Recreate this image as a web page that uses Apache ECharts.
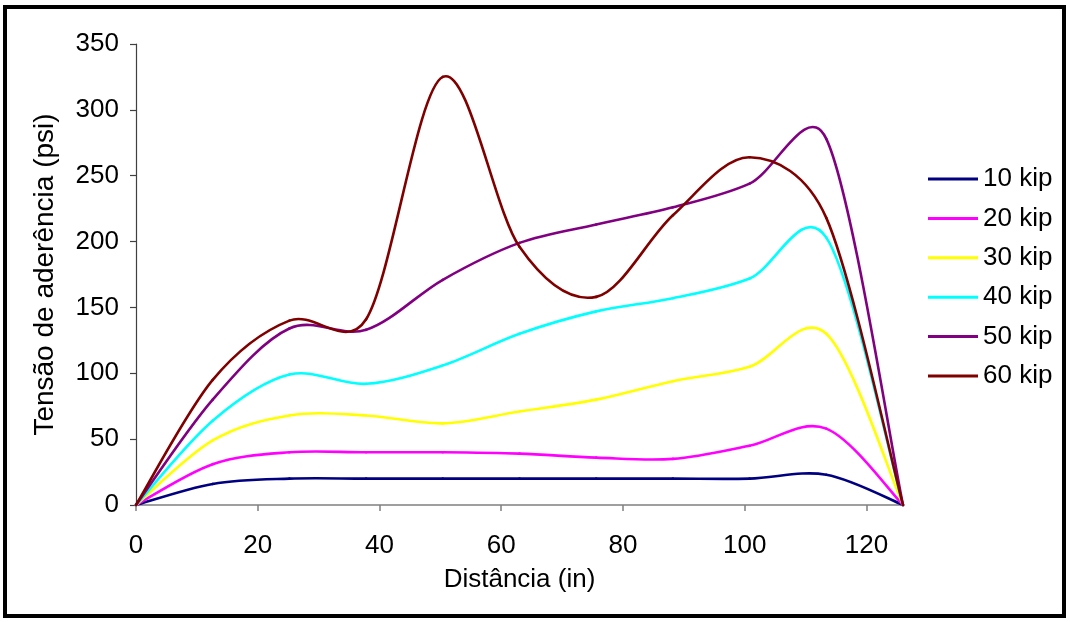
<!DOCTYPE html>
<html>
<head>
<meta charset="utf-8">
<script src="https://cdn.jsdelivr.net/npm/echarts@6/dist/echarts.min.js"></script>
<style>
html,body{margin:0;padding:0;background:#fff;}
#c{width:1070px;height:622px;}
</style>
</head>
<body>
<div id="c"></div>
<script>
// Distances (in) of the measured points
const distances = [0, 12.6, 25.2, 37.8, 50.4, 63, 75.6, 88.2, 100.8, 113.4, 126];
// Bond stress (psi) per load level
const kip10 = [0, 16, 20, 20, 20, 20, 20, 20, 20, 23, 0];
const kip20 = [0, 31, 40, 40, 40, 39, 36, 35, 45, 58, 0];
const kip30 = [0, 49, 68, 68, 62, 71, 80, 94, 105, 130, 0];
const kip40 = [0, 64, 99, 92, 106, 130, 147, 157, 172, 203, 0];
const kip50 = [0, 80, 134, 133, 171, 199, 213, 226, 244, 278, 0];
const kip60 = [0, 95, 140, 141, 325, 196, 158, 220, 264, 218, 0];
const seriesNames = ['10 kip', '20 kip', '30 kip', '40 kip', '50 kip', '60 kip'];
const seriesColors = ['#000080', '#FF00FF', '#FFFF00', '#00FFFF', '#800080', '#800000'];
const xTicks = [0, 20, 40, 60, 80, 100, 120];
const yTicks = [0, 50, 100, 150, 200, 250, 300, 350];

const allValues = [kip10, kip20, kip30, kip40, kip50, kip60];
const chart = echarts.init(document.getElementById('c'));
const font = 'Arial, "Liberation Sans", sans-serif';

// Smoothed segment (spreadsheet-style Bezier smoothing) between data points,
// positions obtained through the chart's own axes via api.coord.
function makeRenderItem(color) {
  return function (params, api) {
    const idx = params.dataIndexInside;
    const n = params.dataInsideLength;
    if (idx >= n - 1) return null;
    const pt = function (k) {
      k = Math.max(0, Math.min(n - 1, k));
      return api.coord([api.value(0, k), api.value(1, k)]);
    };
    const p0 = pt(idx - 1), p1 = pt(idx), p2 = pt(idx + 1), p3 = pt(idx + 2);
    const dist = (a, b) => Math.hypot(a[0] - b[0], a[1] - b[1]);
    const d12 = dist(p1, p2), d02 = dist(p0, p2), d13 = dist(p1, p3);
    const f1 = d02 > 0 ? Math.min(1 / 6, d12 / (2 * d02)) : 0;
    const f2 = d13 > 0 ? Math.min(1 / 6, d12 / (2 * d13)) : 0;
    return {
      type: 'bezierCurve',
      shape: {
        x1: p1[0], y1: p1[1], x2: p2[0], y2: p2[1],
        cpx1: p1[0] + (p2[0] - p0[0]) * f1,
        cpy1: p1[1] + (p2[1] - p0[1]) * f1,
        cpx2: p2[0] - (p3[0] - p1[0]) * f2,
        cpy2: p2[1] - (p3[1] - p1[1]) * f2
      },
      style: { stroke: color, lineWidth: 2.6, fill: null, lineCap: 'round', lineJoin: 'round' }
    };
  };
}

const series = allValues.map((vals, i) => ({
  name: seriesNames[i],
  type: 'custom',
  coordinateSystem: 'cartesian2d',
  data: distances.map((d, j) => [d, vals[j]]),
  encode: { x: 0, y: 1 },
  renderItem: makeRenderItem(seriesColors[i]),
  itemStyle: { color: seriesColors[i] },
  clip: false,
  animation: false
}));

chart.setOption({
  backgroundColor: '#ffffff',
  animation: false,
  graphic: [{
    type: 'rect',
    shape: { x: 5, y: 7, width: 1059, height: 609 },
    style: { fill: 'none', stroke: '#000', lineWidth: 4 },
    silent: true
  }],
  grid: { left: 136, right: 167, top: 44, bottom: 117, containLabel: false },
  legend: {
    orient: 'vertical',
    left: 923,
    top: 161,
    icon: 'rect',
    itemWidth: 50,
    itemHeight: 3,
    itemGap: 13.4,
    data: seriesNames,
    textStyle: { fontFamily: font, fontSize: 26, lineHeight: 26, color: '#000' }
  },
  xAxis: {
    type: 'value',
    min: 0,
    max: 126,
    interval: 20,
    name: 'Distância (in)',
    nameLocation: 'middle',
    nameGap: 62,
    nameTextStyle: { fontFamily: font, fontSize: 26, color: '#000' },
    axisLine: { show: true, lineStyle: { color: '#808080', width: 1.5 } },
    axisTick: { show: true, length: 6, customValues: xTicks, lineStyle: { color: '#808080', width: 1.5 } },
    axisLabel: { customValues: xTicks, margin: 28, fontFamily: font, fontSize: 26, color: '#000' },
    splitLine: { show: false }
  },
  yAxis: {
    type: 'value',
    min: 0,
    max: 350,
    interval: 50,
    name: 'Tensão de aderência (psi)',
    nameLocation: 'middle',
    nameGap: 77,
    nameRotate: 90,
    nameTextStyle: { fontFamily: font, fontSize: 28, color: '#000' },
    axisLine: { show: true, lineStyle: { color: '#404040', width: 1.2 } },
    axisTick: { show: true, length: 6, customValues: yTicks, lineStyle: { color: '#404040', width: 1.2 } },
    axisLabel: { customValues: yTicks, margin: 17, fontFamily: font, fontSize: 26, color: '#000' },
    splitLine: { show: false }
  },
  series: series
});
</script>
</body>
</html>
